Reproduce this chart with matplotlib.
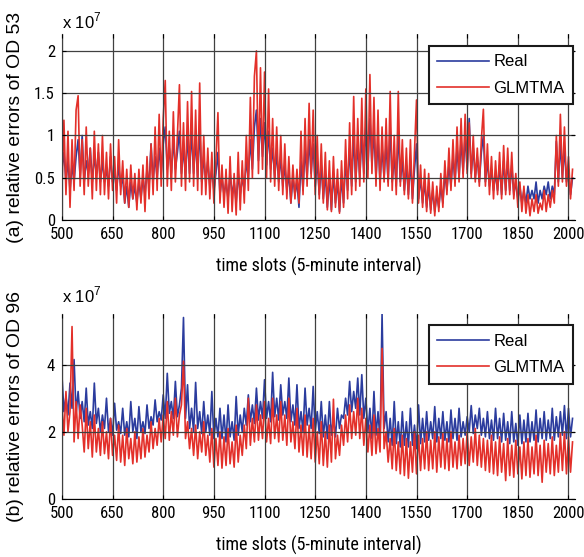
import numpy as np
import matplotlib
matplotlib.use('Agg')
import matplotlib.pyplot as plt
from matplotlib import font_manager as fm
from matplotlib.font_manager import FontProperties

plt.rcParams['font.family'] = ['Liberation Sans', 'DejaVu Sans']
plt.rcParams['mathtext.fontset'] = 'custom'
plt.rcParams['mathtext.rm'] = 'Liberation Sans'

# time slots, sampled every 6 slots (5-minute interval)
slots = list(range(500, 2013, 6))

# (a) OD 53, values in units of 1e7
od53_real = [
    0.60, 0.80, 0.45, 0.70, 0.35, 0.65, 0.45, 0.75, 0.95, 0.50,
    1.00, 0.45, 0.70, 0.55, 0.85, 0.45, 0.75, 0.55, 0.80, 0.45,
    0.70, 0.45, 0.60, 0.40, 0.75, 0.45, 0.55, 0.35, 0.65, 0.40,
    0.50, 0.20, 0.40, 0.15, 0.45, 0.25, 0.40, 0.20, 0.45, 0.25,
    0.50, 0.30, 0.60, 0.40, 0.90, 0.45, 0.75, 0.50, 0.85, 0.55,
    0.90, 1.10, 0.60, 0.85, 0.55, 0.95, 0.60, 0.80, 1.05, 0.55,
    0.85, 0.50, 1.00, 0.55, 1.05, 0.55, 0.95, 0.50, 1.10, 0.45,
    0.75, 0.45, 0.70, 0.40, 0.60, 0.35, 0.55, 0.80, 0.30, 0.50,
    0.30, 0.45, 0.25, 0.55, 0.30, 0.45, 0.20, 0.55, 0.30, 0.50,
    0.35, 0.70, 0.50, 0.95, 0.60, 1.10, 1.30, 0.70, 1.20, 0.75,
    1.15, 0.65, 1.05, 0.60, 0.85, 0.50, 0.80, 0.45, 0.75, 0.40,
    0.65, 0.35, 0.55, 0.20, 0.50, 0.30, 0.45, 0.15, 0.70, 0.35,
    0.85, 0.50, 0.95, 0.55, 0.90, 0.40, 0.70, 0.30, 0.65, 0.25,
    0.55, 0.15, 0.50, 0.12, 0.55, 0.20, 0.45, 0.10, 0.50, 0.20,
    0.70, 0.35, 0.85, 0.40, 1.00, 0.45, 0.90, 0.50, 1.00, 0.55,
    1.10, 0.60, 1.20, 0.65, 1.05, 0.50, 0.95, 0.45, 0.85, 0.50,
    0.90, 0.45, 1.10, 0.45, 0.75, 0.40, 1.05, 0.45, 0.70, 0.35,
    0.65, 0.30, 0.70, 0.25, 0.60, 0.90, 0.25, 0.50, 0.20, 0.45,
    0.15, 0.40, 0.12, 0.35, 0.10, 0.30, 0.15, 0.40, 0.20, 0.55,
    0.35, 0.65, 0.40, 0.75, 0.45, 0.85, 0.50, 0.95, 0.55, 1.00,
    0.60, 1.20, 0.55, 0.85, 0.50, 0.75, 0.45, 0.80, 1.00, 0.45,
    0.70, 0.40, 0.60, 0.35, 0.55, 0.35, 0.65, 0.30, 0.70, 0.35,
    0.70, 0.35, 0.65, 0.30, 0.45, 0.25, 0.40, 0.20, 0.35, 0.20,
    0.40, 0.25, 0.35, 0.25, 0.45, 0.20, 0.35, 0.25, 0.40, 0.30,
    0.45, 0.25, 0.40, 0.30, 0.93, 0.45, 0.90, 0.50, 0.85, 0.45,
    0.60, 0.30, 0.50,
]
od53_glmtma = [
    0.35, 1.18, 0.30, 1.05, 0.15, 0.95, 0.35, 1.30, 1.47, 0.40,
    0.95, 0.30, 1.10, 0.40, 0.85, 0.25, 1.05, 0.35, 0.90, 0.30,
    1.00, 0.30, 0.80, 0.25, 0.90, 0.35, 0.75, 0.20, 0.95, 0.30,
    0.70, 0.20, 0.60, 0.15, 0.65, 0.25, 0.55, 0.12, 0.60, 0.20,
    0.65, 0.10, 0.75, 0.25, 0.90, 0.30, 1.10, 0.35, 1.25, 0.40,
    1.20, 1.65, 0.40, 1.05, 0.35, 1.28, 0.45, 1.00, 1.60, 0.40,
    1.15, 0.35, 1.40, 0.45, 1.52, 0.40, 1.30, 0.35, 1.62, 0.30,
    1.00, 0.30, 0.85, 0.25, 0.80, 0.20, 0.70, 1.27, 0.20, 0.65,
    0.15, 0.60, 0.08, 0.75, 0.10, 0.55, 0.06, 0.80, 0.12, 0.70,
    0.20, 1.00, 0.35, 1.45, 0.50, 1.70, 2.00, 0.55, 1.80, 0.60,
    1.75, 0.50, 1.55, 0.45, 1.20, 0.40, 1.10, 0.35, 1.00, 0.30,
    0.90, 0.25, 0.75, 0.20, 0.65, 0.25, 0.60, 0.20, 1.05, 0.30,
    1.20, 0.40, 1.38, 0.50, 1.30, 0.30, 1.00, 0.25, 0.90, 0.20,
    0.80, 0.12, 0.70, 0.10, 0.75, 0.15, 0.60, 0.08, 0.70, 0.15,
    0.95, 0.25, 1.15, 0.30, 1.46, 0.35, 1.20, 0.40, 1.44, 0.45,
    1.55, 0.50, 1.72, 0.55, 1.45, 0.40, 1.30, 0.35, 1.10, 0.45,
    1.20, 0.40, 1.52, 0.35, 1.00, 0.30, 1.52, 0.40, 0.95, 0.30,
    0.85, 0.25, 0.95, 0.20, 0.80, 1.42, 0.20, 0.65, 0.15, 0.60,
    0.10, 0.55, 0.08, 0.45, 0.05, 0.40, 0.10, 0.55, 0.15, 0.70,
    0.30, 0.85, 0.35, 0.95, 0.40, 1.10, 0.45, 1.20, 0.50, 1.25,
    0.55, 1.15, 0.50, 1.00, 0.45, 0.85, 0.40, 0.95, 1.31, 0.40,
    0.90, 0.30, 0.75, 0.25, 0.70, 0.30, 0.80, 0.25, 0.88, 0.30,
    0.85, 0.30, 0.80, 0.25, 0.55, 0.15, 0.45, 0.10, 0.40, 0.08,
    0.30, 0.05, 0.25, 0.10, 0.30, 0.08, 0.20, 0.12, 0.35, 0.10,
    0.30, 0.15, 0.35, 0.20, 1.00, 0.40, 1.25, 0.45, 1.10, 0.40,
    0.75, 0.25, 0.60,
]

# (b) OD 96, values in units of 1e7
od96_real = [
    3.70, 2.60, 3.05, 2.50, 3.45, 2.70, 4.15, 2.55, 3.20, 2.40,
    2.90, 2.30, 3.30, 2.20, 2.60, 2.10, 3.45, 2.25, 2.70, 2.00,
    2.50, 2.10, 3.00, 2.00, 2.40, 1.90, 2.85, 2.05, 2.30, 1.95,
    2.70, 1.90, 2.30, 1.85, 2.90, 2.00, 2.40, 1.80, 2.75, 2.00,
    2.30, 1.95, 2.80, 2.10, 2.45, 2.20, 2.95, 2.30, 2.60, 2.35,
    3.10, 2.40, 3.74, 2.55, 2.90, 2.40, 3.50, 2.45, 2.80, 3.30,
    5.40, 2.40, 3.40, 2.10, 2.70, 2.00, 3.47, 2.10, 2.60, 1.95,
    2.90, 2.00, 2.50, 1.90, 3.20, 1.80, 2.40, 1.85, 2.70, 1.80,
    2.50, 1.70, 2.80, 1.85, 2.30, 1.75, 3.05, 1.90, 2.50, 2.00,
    2.70, 2.20, 3.10, 2.30, 2.80, 2.25, 3.30, 2.35, 2.90, 2.40,
    3.55, 2.40, 2.90, 2.30, 3.77, 2.45, 3.00, 2.35, 3.40, 2.50,
    2.90, 2.40, 3.60, 2.30, 2.80, 2.20, 3.40, 2.10, 2.60, 2.00,
    3.30, 2.20, 2.70, 2.10, 3.35, 2.00, 2.60, 1.95, 2.90, 1.85,
    2.50, 1.80, 2.90, 1.90, 2.40, 1.85, 2.70, 2.10, 2.50, 2.40,
    3.00, 2.50, 3.50, 2.60, 3.20, 2.70, 3.60, 2.50, 3.70, 2.40,
    3.00, 2.00, 2.70, 1.80, 3.20, 1.90, 2.60, 1.75, 5.50, 2.10,
    2.60, 1.70, 2.40, 1.60, 2.90, 1.65, 2.30, 1.55, 2.60, 1.60,
    2.30, 1.55, 2.70, 1.60, 2.20, 1.50, 2.80, 1.65, 2.40, 1.70,
    2.60, 1.75, 2.30, 1.80, 2.75, 1.70, 2.40, 1.80, 2.60, 1.75,
    2.30, 1.70, 2.65, 1.80, 2.40, 1.75, 2.70, 1.85, 2.30, 1.90,
    2.45, 2.00, 2.78, 1.95, 2.50, 2.10, 2.70, 1.90, 2.40, 1.85,
    2.60, 1.80, 2.35, 1.75, 2.70, 1.80, 2.40, 1.70, 2.55, 1.75,
    2.30, 1.65, 2.60, 1.70, 2.25, 1.60, 2.50, 1.65, 2.35, 1.70,
    2.55, 1.70, 2.30, 1.75, 2.65, 1.70, 2.40, 1.80, 2.60, 1.75,
    2.35, 1.80, 2.70, 1.75, 2.45, 1.85, 2.60, 1.90, 2.78, 1.80,
    2.70, 1.85, 2.40,
]
od96_glmtma = [
    2.80, 1.90, 3.20, 2.00, 2.60, 5.13, 1.70, 2.90, 1.80, 2.80,
    2.20, 1.40, 2.70, 1.50, 2.30, 1.25, 2.50, 1.40, 2.10, 1.30,
    2.30, 1.35, 2.00, 1.20, 2.40, 1.30, 1.90, 1.15, 2.20, 1.10,
    1.90, 1.00, 2.10, 1.20, 1.80, 1.05, 2.00, 1.10, 1.85, 1.20,
    2.10, 1.25, 1.90, 1.40, 2.30, 1.50, 2.10, 1.60, 2.40, 1.70,
    2.50, 1.80, 2.90, 1.75, 2.60, 1.90, 3.00, 1.85, 2.50, 2.80,
    4.10, 1.80, 2.30, 1.50, 2.10, 1.30, 2.20, 1.20, 2.00, 1.40,
    2.30, 1.30, 1.90, 1.10, 2.10, 0.95, 1.80, 1.00, 2.00, 0.92,
    1.85, 1.00, 2.10, 1.05, 1.70, 0.95, 2.20, 1.10, 1.90, 1.30,
    2.20, 1.50, 3.00, 1.60, 2.40, 1.70, 2.80, 1.75, 2.50, 1.80,
    2.90, 1.70, 2.40, 1.65, 3.00, 1.80, 2.50, 1.70, 2.90, 1.75,
    2.50, 1.60, 3.00, 1.70, 2.30, 1.50, 2.70, 1.40, 2.20, 1.30,
    2.50, 1.25, 2.20, 1.20, 2.40, 1.10, 2.00, 1.05, 2.30, 1.00,
    2.00, 0.95, 2.20, 1.10, 2.97, 1.20, 1.90, 1.30, 2.20, 1.60,
    2.50, 1.70, 2.80, 1.80, 2.60, 1.90, 3.00, 1.80, 2.70, 1.60,
    2.40, 1.40, 2.20, 1.30, 2.50, 1.35, 2.10, 1.40, 4.48, 1.50,
    2.00, 1.10, 1.80, 0.90, 2.10, 0.85, 1.70, 0.75, 1.90, 0.70,
    1.80, 0.62, 1.70, 0.80, 2.00, 0.75, 1.90, 0.85, 1.80, 0.90,
    2.00, 0.85, 1.75, 0.90, 2.00, 0.80, 1.85, 0.95, 1.95, 0.90,
    1.80, 0.85, 2.00, 0.95, 1.70, 0.90, 1.90, 1.00, 1.80, 1.05,
    2.00, 1.00, 1.85, 1.10, 2.10, 1.00, 1.90, 0.95, 1.80, 0.85,
    1.75, 0.80, 1.90, 0.75, 1.70, 0.70, 1.85, 0.80, 1.65, 0.55,
    1.80, 0.70, 1.60, 0.65, 1.75, 0.75, 1.55, 0.60, 1.70, 0.70,
    1.80, 0.65, 1.55, 0.75, 1.90, 0.70, 1.60, 0.50, 1.75, 0.80,
    1.65, 0.75, 1.85, 0.70, 1.60, 0.80, 1.95, 0.85, 2.00, 0.75,
    1.85, 0.80, 1.70,
]

xticks = [500, 650, 800, 950, 1100, 1250, 1400, 1550, 1700, 1850, 2000]
blue = '#2B3C9E'
red = '#E3302A'

# tick labels in the original are set in a narrow face; use one if installed
avail = {(f.name, f.stretch) for f in fm.fontManager.ttflist}
names = {n for n, s in avail}
if 'Liberation Sans Narrow' in names:
	narrow = FontProperties(family='Liberation Sans Narrow', size=12.5)
elif 'Roboto Condensed' in names:
	narrow = FontProperties(family='Roboto Condensed', size=12)
elif ('DejaVu Sans', 'condensed') in avail:
	narrow = FontProperties(family='DejaVu Sans', stretch='condensed', size=11)
else:
	narrow = FontProperties(family='Liberation Sans', size=10.5)

fig = plt.figure(figsize=(5.84, 5.57), dpi=100)
ax1 = fig.add_axes([0.106, 0.605, 0.879, 0.334])
ax2 = fig.add_axes([0.106, 0.104, 0.879, 0.332])

def style(ax, real, est, ylim, yticks, yticklabels, ylabel, legy):
	ax.plot(slots, real, color=blue, lw=1.2, label='Real')
	ax.plot(slots, est, color=red, lw=1.2, label='GLMTMA')
	ax.set_xlim(500, 2020)
	ax.set_ylim(*ylim)
	ax.set_xticks(xticks)
	ax.set_xticklabels([str(t) for t in xticks], fontproperties=narrow)
	ax.set_yticks(yticks)
	ax.set_yticklabels(yticklabels, fontproperties=narrow)
	ax.tick_params(direction='in', length=3, top=True, right=True)
	ax.tick_params(axis='x', pad=5)
	ax.tick_params(axis='y', pad=5)
	ax.grid(True, color='0.25', lw=0.9)
	ax.set_axisbelow(False)
	for sp in ['top', 'right']:
		ax.spines[sp].set_visible(False)
	xl = ax.set_xlabel('time slots (5-minute interval)', fontproperties=narrow)
	ax.xaxis.set_label_coords(0.5, -0.20)
	yl = ax.set_ylabel(ylabel, fontsize=14)
	ax.yaxis.set_label_coords(-0.074, 0.5)
	leg = ax.legend(loc='upper right', bbox_to_anchor=(0.996, legy), borderaxespad=0,
	                fontsize=12, handlelength=3.1, labelspacing=0.7, borderpad=0.5,
	                handletextpad=0.3, fancybox=False, framealpha=1, edgecolor='0.1')
	leg.get_frame().set_linewidth(1.5)
	return xl, yl

labels = []
labels.append(style(ax1, od53_real, od53_glmtma, (0, 2.2), [0, 0.5, 1, 1.5, 2],
                    ['0', '0.5', '1', '1.5', '2'], '(a) relative errors of OD 53', 0.935))
labels.append(style(ax2, od96_real, od96_glmtma, (0, 5.5), [0, 2, 4],
                    ['0', '2', '4'], '(b) relative errors of OD 96', 0.94))

fig.text(0.106, 0.962, r'x 10$^{7}$', fontsize=12, ha='left', va='center')
fig.text(0.106, 0.47, r'x 10$^{7}$', fontsize=12, ha='left', va='center')

# size the axis labels to the lengths they have in the original
fig.canvas.draw()
for xl, yl in labels:
	w = xl.get_window_extent().width
	xl.set_fontsize(xl.get_fontsize() * 206.0 / w)
	h = yl.get_window_extent().height
	yl.set_fontsize(yl.get_fontsize() * 232.0 / h)

fig.savefig('out.png', dpi=100)
